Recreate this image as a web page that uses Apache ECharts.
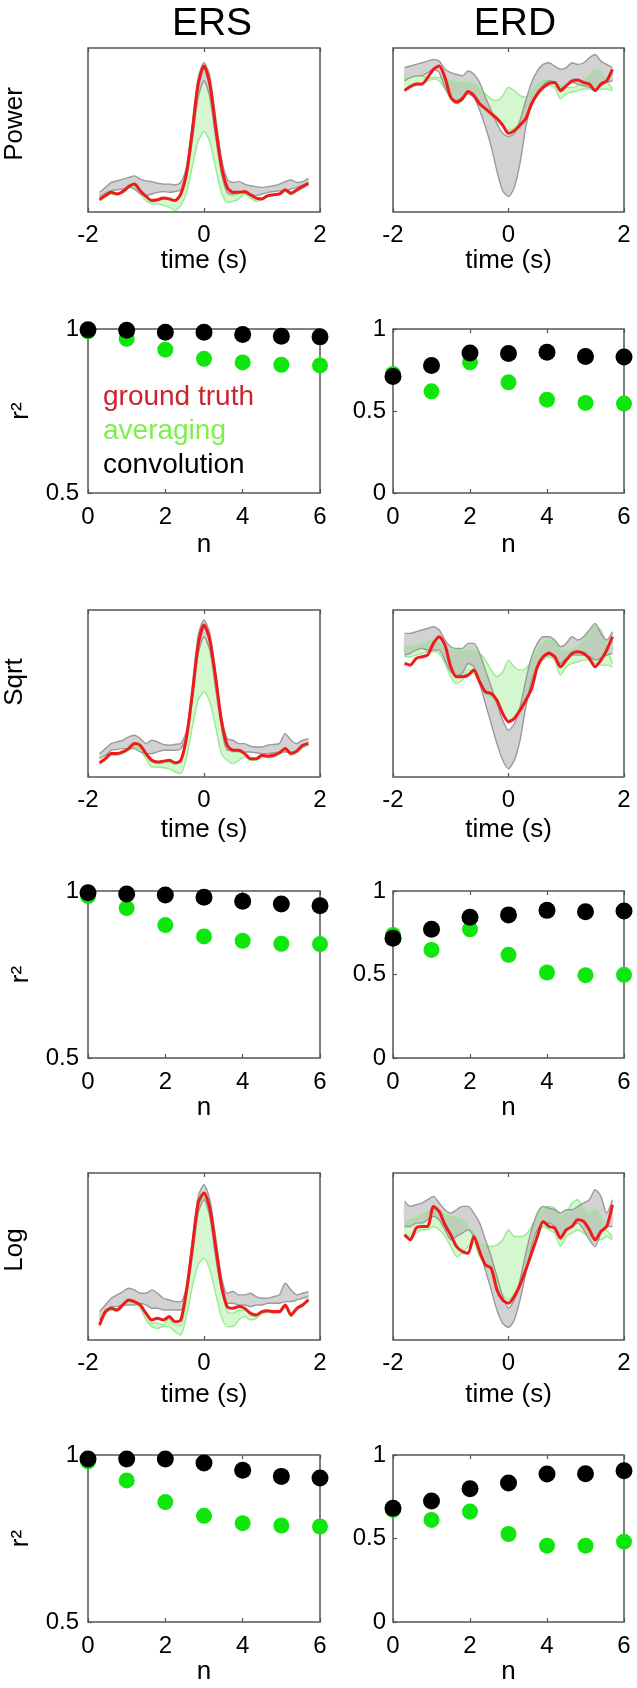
<!DOCTYPE html>
<html><head><meta charset="utf-8">
<script src="https://cdn.jsdelivr.net/npm/echarts@6/dist/echarts.min.js"></script>
<style>html,body{margin:0;padding:0;background:#fff}#c{width:637px;height:1688px}</style>
</head><body><div id="c"></div><script>
// ---- time axis (s) ----
const times = [-1.8,-1.7,-1.6,-1.5,-1.4,-1.3,-1.2,-1.1,-1.0,-0.9,-0.8,-0.7,-0.6,-0.5,-0.4,-0.3,-0.2,-0.1,0,0.1,0.2,0.3,0.4,0.5,0.6,0.7,0.8,0.9,1.0,1.1,1.2,1.3,1.4,1.5,1.6,1.7,1.8];

// ---- Power, ERS (arbitrary units, 0 = axis bottom, 100 = axis top) ----
const powerErsTruth   = [7.5,10,12,11,12.5,15.5,17,13,9.5,7,7.5,8.5,8,7,11,24,50,78,89,78,52,28,15,12,12,12.5,10.5,8.5,8,10,10.5,11,13.5,11.5,13.5,15.5,17.5];
const powerErsConvHi  = [12,15,18,19,20,21,22,20,19,18.5,17.5,17,17,16.5,18,28,54,82,91,83,58,33,20,18,18.5,17,16,15.5,15,15.5,16,17,18.5,19.5,18,18.5,20.5];
const powerErsConvLo  = [9,11.5,13,13.5,14,15,14,11,10,11,12,12.5,12,12.5,13.5,22,44,70,80,70,46,24,12,11,12,11.5,11,10,11,12,12.5,13,13,14,15,16.5,18];
const powerErsAvgHi   = [7.5,9.5,11.5,11,12,15,16,12.5,9,7,7,8,7.5,6.5,10,22,47,72,80,72,47,24,12,10,11,12,10,8,8,10,10.5,11,13,11,13,15,17];
const powerErsAvgLo   = [7,9,11,10.5,11.5,14.5,15,11,7,5,5,4,3,1,4,12,28,43,49,43,27,12,6,6.5,8,11,8.5,6.5,7.5,9.5,10,10.5,12.5,10.5,12.5,14.5,16.5];
// ---- Power, ERD ----
const powerErdTruth   = [74,76.5,78,78,82,87,89,82,70,67,69,73.5,71,66,63,60,57,53,48,49.5,53,57,66,72,76,78.5,79,74,77,80,80.5,79,78,74,78,80,87];
const powerErdConvHi  = [88,89,90,91,92,93,92,87,85,84,83,86,84,79,70,62,54,48,46,48,56,68,79,86,90,91,89,87,88,91,90,91,94,96,92,90,88];
const powerErdConvLo  = [80,82,83,83,85,87,85,76,70,68,70,72,70,62,52,40,25,13,9.5,15,30,52,66,73,77,80,79,75,77,79,78,77,76,75,77,79,80];
const powerErdAvgHi   = [81,82,83,83,82,82,82,81,80,79,79,79,78,75,72,69,68,71,76,74,71,70,74,78,80,80,79,77,76,76,77,80,83,87,86,80,75];
const powerErdAvgLo   = [75,76,77,78,80,81,80,75,69,66,68,72,70,65,62,59,56,52,50,51,54,58,65,71,75,77,76,69,72,73,74,75,75,74,75,75,74];
// ---- Sqrt, ERS ----
const sqrtErsTruth    = [8.5,11,14,14,15,17,20,19,14,10,9,9.5,10,8.5,10,24,50,79,91,82,60,34,19,16,16,14,11,11,13,12.5,13,14.5,17,14,15.5,19,20];
const sqrtErsConvHi   = [14,17,20,21,22,24,25,23,20,22,21,19.5,19,19.5,20,28,55,85,94,86,62,36,23,22,20,20,18.5,18,18,19,19.5,20,26,22,20,22,23];
const sqrtErsConvLo   = [11,13,16,16.5,17,17,17,15,14,14,15,16,16,16,17,25,48,74,84,76,53,30,16,16,16,15,15,14.5,14,14,14.5,15,15,15,16,18,21];
const sqrtErsAvgHi    = [8,10.5,13.5,13.5,14.5,16.5,19,18,13,9,8,8.5,9,7.5,9,22,47,74,84,76,56,31,17,15,15,13.5,10.5,10.5,12.5,12,12.5,14,16.5,13.5,15,18,19.5];
const sqrtErsAvgLo    = [7.5,10,13,13,14,16,18,16,11,6,6,5.5,5,3,2,12,30,46,51,45,30,14,10,8,10,12,10,10,12,11.5,12,13.5,16,13,14.5,17.5,19];
// ---- Sqrt, ERD ----
const sqrtErdTruth    = [68,67,71,72,73,80,84,79,66,60,60,61,64,57,51,50,46,38,33,35,40,46,53,66,72,74,72,66,70,74,75,74,71,66,70,76,84];
const sqrtErdConvHi   = [86,86,87,88,89,90,88,82,78,77,77,80,80,74,64,54,44,34,28,32,42,58,72,80,84,84,82,78,80,84,82,84,88,92,86,82,87];
const sqrtErdConvLo   = [73,74,76,77,76,76,76,70,63,61,62,68,66,56,44,32,20,10,5,10,22,42,58,66,72,75,72,68,71,73,73,73,72,70,71,73,74];
const sqrtErdAvgHi    = [78,78,79,80,81,82,80,77,76,76,76,76,75,74,70,64,60,63,70,66,64,65,70,76,80,82,81,76,75,77,78,82,86,90,88,78,68];
const sqrtErdAvgLo    = [72,72,73,74,75,75,74,68,60,56,58,64,62,56,50,48,44,38,34,36,41,47,56,65,70,72,70,61,66,68,69,70,70,68,67,67,66];
// ---- Log, ERS ----
const logErsTruth     = [9,17,19,18,21,24,23,21,16,12,13,12,14,11,12,30,56,82,88,79,56,33,20,19,20,19,16,15,17,17.5,17,17,21,15,19,21,24];
const logErsConvHi    = [17,21,25,27,29,31,30,28,28,30,28,25,24,23,23,32,60,86,93,84,62,38,28,29,27,27,28,26,25,25,26,27,34,30,27,28,29];
const logErsConvLo    = [12,16,20,20,21,21,21,22,21,19,19,18,18,18,18,28,50,76,84,74,50,30,22,22,21,21,20,21,21,22,22,22,23,23,24,25,26];
const logErsAvgHi     = [8.5,16.5,18.5,17.5,20.5,23.5,22.5,20.5,15,10,10,9,13,9,9,26,52,78,86,76,52,30,17,16,18,18,15,14,16.5,17,16.5,16.5,20.5,14.5,18.5,20.5,25];
const logErsAvgLo     = [8,16,18,17,20,23,22,19,12,8,7,8,8,5,3,15,32,45,49,42,28,14,8,8,12,14,12,13,16,16.5,16,16,20,14,18,20,24];
// ---- Log, ERD ----
const logErdTruth     = [63,60,67,68,68,80,77,69,63,56,53,52,62,53,45,43,30,24,22,26,33,42,52,62,71,68,67,61,66,68,72,71,66,60,65,68,81];
const logErdConvHi    = [83,80,81,82,84,86,82,78,76,78,80,80,76,70,60,50,38,26,19,24,36,52,66,76,80,79,78,76,78,78,80,82,84,90,86,76,84];
const logErdConvLo    = [68,68,70,70,72,74,72,66,60,62,64,66,62,54,42,30,18,10,7.5,12,24,40,56,66,70,70,68,62,66,68,70,66,60,56,64,68,68];
const logErdAvgHi     = [70,72,73,75,77,78,77,75,74,73,72,68,64,58,57,56,57,60,66,62,62,63,68,74,78,80,79,74,76,82,84,78,76,78,74,66,62];
const logErdAvgLo     = [62,62,64,66,66,68,66,62,56,50,52,56,58,50,45,42,33,27,24,28,34,42,52,62,68,66,64,56,62,64,66,64,62,60,60,62,60];

// ---- r^2 versus n ----
const nValues        = [0,1,2,3,4,5,6];
const powerErsR2Conv = [0.998,0.996,0.99,0.99,0.983,0.978,0.976];
const powerErsR2Avg  = [0.993,0.97,0.937,0.909,0.898,0.891,0.889];
const powerErdR2Conv = [0.711,0.778,0.854,0.85,0.858,0.833,0.829];
const powerErdR2Avg  = [0.726,0.62,0.797,0.675,0.569,0.549,0.545];
const sqrtErsR2Conv  = [0.995,0.991,0.988,0.981,0.969,0.961,0.956];
const sqrtErsR2Avg   = [0.985,0.949,0.898,0.864,0.851,0.842,0.841];
const sqrtErdR2Conv  = [0.717,0.771,0.843,0.857,0.884,0.876,0.88];
const sqrtErdR2Avg   = [0.737,0.647,0.771,0.618,0.512,0.496,0.498];
const logErsR2Conv   = [0.988,0.988,0.988,0.976,0.954,0.936,0.931];
const logErsR2Avg    = [0.981,0.924,0.859,0.818,0.796,0.789,0.786];
const logErdR2Conv   = [0.681,0.725,0.798,0.832,0.886,0.888,0.906];
const logErdR2Avg    = [0.671,0.611,0.661,0.527,0.457,0.457,0.481];

const columnTitles = ['ERS','ERD'];
const rowNames = ['Power','Sqrt','Log'];
const seriesNames = ['ground truth','averaging','convolution'];

// ---------------- build ----------------
const FONT = "'Liberation Sans', Arial, Helvetica, sans-serif";
const colLeft = [88, 393], colW = [232, 231];
const rowTop = [48, 329, 610, 891, 1173, 1455], rowH = [164, 164, 167, 167, 167, 167];
const rowNameGap = [34, 39, 40, 35, 42, 35];
const rowLabelY = [124, null, 682, null, 1250, null];
const FRAME = '#555';

const timePanels = [
  {row:0,col:0,t:powerErsTruth,ch:powerErsConvHi,cl:powerErsConvLo,ah:powerErsAvgHi,al:powerErsAvgLo},
  {row:0,col:1,t:powerErdTruth,ch:powerErdConvHi,cl:powerErdConvLo,ah:powerErdAvgHi,al:powerErdAvgLo},
  {row:2,col:0,t:sqrtErsTruth,ch:sqrtErsConvHi,cl:sqrtErsConvLo,ah:sqrtErsAvgHi,al:sqrtErsAvgLo},
  {row:2,col:1,t:sqrtErdTruth,ch:sqrtErdConvHi,cl:sqrtErdConvLo,ah:sqrtErdAvgHi,al:sqrtErdAvgLo},
  {row:4,col:0,t:logErsTruth,ch:logErsConvHi,cl:logErsConvLo,ah:logErsAvgHi,al:logErsAvgLo},
  {row:4,col:1,t:logErdTruth,ch:logErdConvHi,cl:logErdConvLo,ah:logErdAvgHi,al:logErdAvgLo}
];
const r2Panels = [
  {row:1,col:0,conv:powerErsR2Conv,avg:powerErsR2Avg,min:0.5},
  {row:1,col:1,conv:powerErdR2Conv,avg:powerErdR2Avg,min:0},
  {row:3,col:0,conv:sqrtErsR2Conv,avg:sqrtErsR2Avg,min:0.5},
  {row:3,col:1,conv:sqrtErdR2Conv,avg:sqrtErdR2Avg,min:0},
  {row:5,col:0,conv:logErsR2Conv,avg:logErsR2Avg,min:0.5},
  {row:5,col:1,conv:logErdR2Conv,avg:logErdR2Avg,min:0}
];

const grid = [], xAxis = [], yAxis = [], series = [], graphic = [];
const tickLabel = {fontSize:24, color:'#000', fontFamily:FONT};
const nameStyle = {fontSize:26, color:'#000', fontFamily:FONT};

function addGrid(row, col) {
  grid.push({left:colLeft[col], top:rowTop[row], width:colW[col], height:rowH[row],
    show:true, borderColor:FRAME, borderWidth:1.5, backgroundColor:'#fff'});
  return grid.length - 1;
}
function addX(gi, row, min, max, interval, name) {
  xAxis.push({gridIndex:gi, type:'value', min, max, interval, position:'bottom',
    axisLine:{show:false}, splitLine:{show:false},
    axisTick:{inside:true, length:4, lineStyle:{color:FRAME, width:1.2}},
    axisLabel:Object.assign({margin: row % 2 ? 12 : 11}, tickLabel),
    name, nameLocation:'middle', nameGap:rowNameGap[row], nameTextStyle:nameStyle});
  xAxis.push({gridIndex:gi, type:'value', min, max, interval, position:'top',
    axisLine:{show:false}, splitLine:{show:false}, axisLabel:{show:false},
    axisTick:{inside:true, length:4, lineStyle:{color:FRAME, width:1.2}}});
  return xAxis.length - 2;
}

function band(name, xi, yi, lo, hi, fill, z) {
  return {type:'custom', name, xAxisIndex:xi, yAxisIndex:yi, silent:true, z,
    data: times.map((t,i)=>[t, lo[i], hi[i]]), encode:{x:0, y:[1,2]},
    renderItem: function(params, api) {
      if (params.dataIndex !== 0) return {type:'group', children:[]};
      const pts = [];
      for (let i = 0; i < times.length; i++) pts.push(api.coord([times[i], lo[i]]));
      for (let i = times.length - 1; i >= 0; i--) pts.push(api.coord([times[i], hi[i]]));
      return {type:'polygon', shape:{points:pts, smooth:0.25}, style:{fill:fill, stroke:null}};
    }};
}
function line(name, xi, yi, vals, color, width, z) {
  return {type:'line', name, xAxisIndex:xi, yAxisIndex:yi, silent:true, z,
    data: times.map((t,i)=>[t, vals[i]]), symbol:'none', smooth:0.25,
    lineStyle:{color, width}, itemStyle:{color}};
}

timePanels.forEach(p => {
  const gi = addGrid(p.row, p.col);
  const xi = addX(gi, p.row, -2, 2, 2, 'time (s)');
  yAxis.push({gridIndex:gi, type:'value', min:0, max:100,
    axisLine:{show:false}, axisTick:{show:false}, axisLabel:{show:false}, splitLine:{show:false}});
  const yi = yAxis.length - 1;
  if (p.col === 0) {
    graphic.push({type:'text', x:15, y:rowLabelY[p.row], rotation:Math.PI/2, silent:true,
      style:{text:rowNames[p.row/2], fontSize:26, fontFamily:FONT, fill:'#000', align:'center', verticalAlign:'middle'}});
  }
  series.push(band(seriesNames[1], xi, yi, p.al, p.ah, 'rgba(120,230,110,0.32)', 1));
  series.push(band(seriesNames[2], xi, yi, p.cl, p.ch, 'rgba(165,165,165,0.5)', 2));
  series.push(line(seriesNames[1], xi, yi, p.ah, '#96ec90', 1.4, 3));
  series.push(line(seriesNames[1], xi, yi, p.al, '#96ec90', 1.4, 3));
  series.push(line(seriesNames[2], xi, yi, p.ch, '#9a9a9a', 1.4, 4));
  series.push(line(seriesNames[2], xi, yi, p.cl, '#9a9a9a', 1.4, 4));
  series.push(line(seriesNames[0], xi, yi, p.t, '#f01a1a', 3, 5));
});

r2Panels.forEach(p => {
  const gi = addGrid(p.row, p.col);
  const xi = addX(gi, p.row, 0, 6, 2, 'n');
  yAxis.push({gridIndex:gi, type:'value', min:p.min, max:1, interval:0.5,
    axisLine:{show:false}, splitLine:{show:false},
    axisTick:{inside:true, length:4, lineStyle:{color:FRAME, width:1.2}},
    axisLabel:Object.assign({margin:p.col === 0 ? 9 : 7}, tickLabel),
    name: p.col === 0 ? 'r²' : '', nameLocation:'middle', nameGap:54, nameTextStyle:nameStyle});
  const yi = yAxis.length - 1;
  series.push({type:'scatter', name:seriesNames[1], xAxisIndex:xi, yAxisIndex:yi, clip:false, z:6,
    symbolSize:16, itemStyle:{color:'#0ee60e', opacity:1}, data:nValues.map((n,i)=>[n, p.avg[i]])});
  series.push({type:'scatter', name:seriesNames[2], xAxisIndex:xi, yAxisIndex:yi, clip:false, z:7,
    symbolSize:17, itemStyle:{color:'#000', opacity:1}, data:nValues.map((n,i)=>[n, p.conv[i]])});
});

const chart = echarts.init(document.getElementById('c'), null, {renderer:'canvas'});
chart.setOption({
  animation:false,
  backgroundColor:'#fff',
  title: columnTitles.map((t,i)=>({text:t, left: i === 0 ? 207 : 510, top:0, textAlign:'center',
    textStyle:{fontSize:39, fontWeight:'normal', color:'#000', fontFamily:FONT}})),
  legend: {orient:'vertical', left:93, top:378, itemWidth:0, itemHeight:0, itemGap:6, icon:'rect',
    selectedMode:false, textStyle:{fontSize:28, fontFamily:FONT},
    data:[{name:seriesNames[0], textStyle:{color:'#c9252c'}},
          {name:seriesNames[1], textStyle:{color:'#7cf04a'}},
          {name:seriesNames[2], textStyle:{color:'#000'}}]},
  graphic, grid, xAxis, yAxis, series
});
</script></body></html>
